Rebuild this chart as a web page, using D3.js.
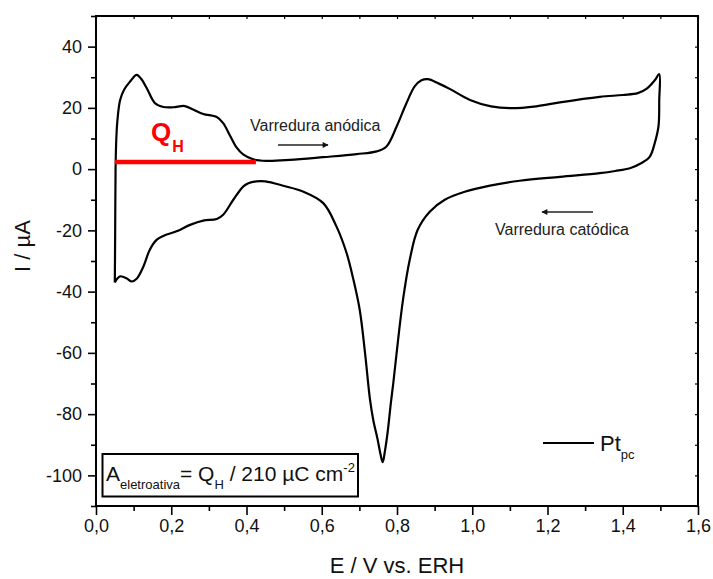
<!DOCTYPE html>
<html>
<head>
<meta charset="utf-8">
<script src="https://cdn.jsdelivr.net/npm/d3@7/dist/d3.min.js"></script>
<style>
  html, body { margin: 0; padding: 0; background: #fff; }
  svg { display: block; font-family: "Liberation Sans", Arial, sans-serif; }
</style>
</head>
<body>
<svg id="chart" width="713" height="579"></svg>
<script>
// Cyclic voltammogram of polycrystalline Pt — anodic sweep (E increasing)
const anodicE = [0.050, 0.051, 0.052, 0.054, 0.057, 0.064, 0.075, 0.090, 0.108, 0.120, 0.135, 0.157, 0.179, 0.205, 0.236, 0.258, 0.285, 0.321, 0.338, 0.356, 0.374, 0.391, 0.418, 0.453, 0.515, 0.604, 0.693, 0.746, 0.772, 0.799, 0.825, 0.847, 0.865, 0.882, 0.910, 0.940, 0.994, 1.050, 1.100, 1.170, 1.233, 1.339, 1.400, 1.440, 1.463, 1.485, 1.497];
const anodicI = [-37.0, -20.0, 0.0, 10.0, 16.0, 22.5, 26.0, 28.5, 30.8, 29.5, 26.4, 21.5, 20.3, 20.2, 20.6, 19.5, 18.0, 17.0, 15.0, 11.0, 7.0, 4.8, 3.2, 2.7, 3.0, 3.9, 4.9, 5.8, 7.4, 13.9, 21.5, 27.0, 29.0, 29.4, 28.0, 26.2, 22.6, 20.5, 19.9, 20.5, 21.8, 23.6, 24.2, 24.8, 26.2, 29.0, 31.0];

// Cathodic sweep (E decreasing back to the lower limit)
const cathodicE = [1.497, 1.497, 1.495, 1.485, 1.472, 1.450, 1.419, 1.380, 1.339, 1.233, 1.126, 1.047, 0.980, 0.927, 0.887, 0.855, 0.834, 0.816, 0.800, 0.790, 0.784, 0.775, 0.768, 0.762, 0.756, 0.748, 0.737, 0.728, 0.715, 0.701, 0.684, 0.666, 0.639, 0.604, 0.550, 0.500, 0.450, 0.426, 0.405, 0.391, 0.365, 0.338, 0.321, 0.285, 0.250, 0.214, 0.179, 0.161, 0.143, 0.126, 0.108, 0.095, 0.081, 0.064, 0.055, 0.050];
const cathodicI = [31.0, 22.6, 14.0, 8.5, 4.1, 2.0, 0.3, -0.6, -1.3, -2.5, -3.8, -5.4, -7.4, -10.0, -13.9, -19.8, -29.5, -42.6, -58.9, -70.0, -76.0, -86.0, -92.0, -95.7, -93.0, -88.0, -82.0, -75.0, -60.0, -46.0, -36.0, -27.4, -18.7, -11.1, -7.3, -5.5, -4.0, -4.0, -4.6, -5.7, -10.0, -14.9, -16.3, -16.8, -18.2, -20.3, -21.8, -23.1, -26.3, -31.8, -35.8, -36.7, -35.6, -35.0, -36.0, -37.0];

// Hydrogen-region charge baseline (E range and current level)
const qhE = [0.05, 0.425];
const qhI = 2.3;

// Axes
const xDomain = [0, 1.6];
const yDomain = [-110, 50];
const xMajor = [0, 0.2, 0.4, 0.6, 0.8, 1.0, 1.2, 1.4, 1.6];
const xMinor = [0.1, 0.3, 0.5, 0.7, 0.9, 1.1, 1.3, 1.5];
const yMajor = [-100, -80, -60, -40, -20, 0, 20, 40];
const yMinor = [-110, -90, -70, -50, -30, -10, 10, 30, 50];

const svg = d3.select("#chart");
const plot = { left: 96, right: 698, top: 16, bottom: 506 };

const x = d3.scaleLinear().domain(xDomain).range([plot.left, plot.right]);
const y = d3.scaleLinear().domain(yDomain).range([plot.bottom, plot.top]);

const commaFmt = d => d3.format(".1f")(d).replace(".", ",");

// Voltammogram loop
const loop = anodicE.map((e, i) => [e, anodicI[i]])
  .concat(cathodicE.map((e, i) => [e, cathodicI[i]]).slice(1));

const line = d3.line()
  .x(d => x(d[0]))
  .y(d => y(d[1]))
  .curve(d3.curveCatmullRom.alpha(0.5));

svg.append("path")
  .datum(loop)
  .attr("d", line)
  .attr("fill", "none")
  .attr("stroke", "#000")
  .attr("stroke-width", 2.2)
  .attr("stroke-linejoin", "round");

// Q_H integration baseline
svg.append("line")
  .attr("x1", x(qhE[0])).attr("x2", x(qhE[1]))
  .attr("y1", y(qhI)).attr("y2", y(qhI))
  .attr("stroke", "#ff0000")
  .attr("stroke-width", 4.5);

// Bottom axis
const gx = svg.append("g")
  .attr("transform", `translate(0,${plot.bottom})`)
  .call(d3.axisBottom(x).tickValues(xMajor).tickFormat(commaFmt).tickSize(9).tickPadding(4));
gx.selectAll(".tick line").attr("stroke-width", 1.6);
gx.selectAll(".tick text").attr("font-size", 18).attr("fill", "#111")
  .attr("font-family", "'Liberation Sans', Arial, sans-serif");
gx.select(".domain").remove();
svg.append("g")
  .attr("transform", `translate(0,${plot.bottom})`)
  .call(d3.axisBottom(x).tickValues(xMinor).tickFormat("").tickSize(5))
  .call(g => g.select(".domain").remove())
  .selectAll("line").attr("stroke-width", 1.6);

// Left axis
const gy = svg.append("g")
  .attr("transform", `translate(${plot.left},0)`)
  .call(d3.axisLeft(y).tickValues(yMajor).tickFormat(d => String(d)).tickSize(8).tickPadding(6));
gy.selectAll(".tick line").attr("stroke-width", 1.6);
gy.selectAll(".tick text").attr("font-size", 18).attr("fill", "#111")
  .attr("font-family", "'Liberation Sans', Arial, sans-serif");
gy.select(".domain").remove();
svg.append("g")
  .attr("transform", `translate(${plot.left},0)`)
  .call(d3.axisLeft(y).tickValues(yMinor).tickFormat("").tickSize(5))
  .call(g => g.select(".domain").remove())
  .selectAll("line").attr("stroke-width", 1.6);

// Mirrored short ticks on top and right
svg.append("g")
  .attr("transform", `translate(0,${plot.top})`)
  .call(d3.axisBottom(x).tickValues(xMajor.concat(xMinor)).tickFormat("").tickSize(3))
  .call(g => g.select(".domain").remove())
  .selectAll("line").attr("stroke-width", 1.2);
svg.append("g")
  .attr("transform", `translate(${plot.right},0)`)
  .call(d3.axisLeft(y).tickValues(yMajor.concat(yMinor)).tickFormat("").tickSize(3))
  .call(g => g.select(".domain").remove())
  .selectAll("line").attr("stroke-width", 1.2);

// Frame
svg.append("rect")
  .attr("x", plot.left).attr("y", plot.top)
  .attr("width", plot.right - plot.left).attr("height", plot.bottom - plot.top)
  .attr("fill", "none").attr("stroke", "#000").attr("stroke-width", 2);

// Axis titles
svg.append("text")
  .attr("x", (plot.left + plot.right) / 2).attr("y", 573)
  .attr("text-anchor", "middle").attr("font-size", 22).attr("fill", "#111")
  .text("E / V vs. ERH");
svg.append("text")
  .attr("transform", "translate(30,246) rotate(-90)")
  .attr("text-anchor", "middle").attr("font-size", 22).attr("fill", "#111")
  .text("I / µA");

// Q_H label
const qh = svg.append("text").attr("x", 151).attr("y", 141)
  .attr("fill", "#ff0000").attr("font-weight", "bold");
qh.append("tspan").attr("font-size", 26).text("Q");
qh.append("tspan").attr("font-size", 16).attr("dy", 11).attr("dx", 1).text("H");

// Sweep direction annotations
const defs = svg.append("defs");
defs.append("marker")
  .attr("id", "arrowHead")
  .attr("viewBox", "0 0 10 10").attr("refX", 9).attr("refY", 5)
  .attr("markerWidth", 10).attr("markerHeight", 6)
  .attr("markerUnits", "userSpaceOnUse")
  .attr("orient", "auto")
  .append("path").attr("d", "M0,0 L10,5 L0,10 Z").attr("fill", "#111");

svg.append("text").attr("x", 250).attr("y", 131)
  .attr("font-size", 16).attr("fill", "#222").text("Varredura anódica");
svg.append("line")
  .attr("x1", 278).attr("x2", 328).attr("y1", 145).attr("y2", 145)
  .attr("stroke", "#222").attr("stroke-width", 1.3)
  .attr("marker-end", "url(#arrowHead)");

svg.append("text").attr("x", 495).attr("y", 235)
  .attr("font-size", 16).attr("fill", "#222").text("Varredura catódica");
svg.append("line")
  .attr("x1", 593).attr("x2", 542).attr("y1", 212).attr("y2", 212)
  .attr("stroke", "#222").attr("stroke-width", 1.3)
  .attr("marker-end", "url(#arrowHead)");

// Series legend
svg.append("line")
  .attr("x1", 543).attr("x2", 594).attr("y1", 443).attr("y2", 443)
  .attr("stroke", "#000").attr("stroke-width", 2);
const pt = svg.append("text").attr("x", 600).attr("y", 451).attr("fill", "#111");
pt.append("tspan").attr("font-size", 22).text("Pt");
pt.append("tspan").attr("font-size", 13).attr("dy", 8).text("pc");

// Electroactive-area formula box
svg.append("rect")
  .attr("x", 102.5).attr("y", 454).attr("width", 255.5).attr("height", 42.5)
  .attr("fill", "#fff").attr("stroke", "#000").attr("stroke-width", 2);
const eq = svg.append("text").attr("x", 106).attr("y", 481).attr("fill", "#111");
eq.append("tspan").attr("font-size", 21).text("A");
eq.append("tspan").attr("font-size", 13).attr("dy", 8).text("eletroativa");
eq.append("tspan").attr("font-size", 21).attr("dy", -8).text("= Q");
eq.append("tspan").attr("font-size", 13).attr("dy", 8).text("H");
eq.append("tspan").attr("font-size", 21).attr("dy", -8).text(" / 210 µC cm");
eq.append("tspan").attr("font-size", 13).attr("dy", -9).text("-2");
</script>
</body>
</html>
